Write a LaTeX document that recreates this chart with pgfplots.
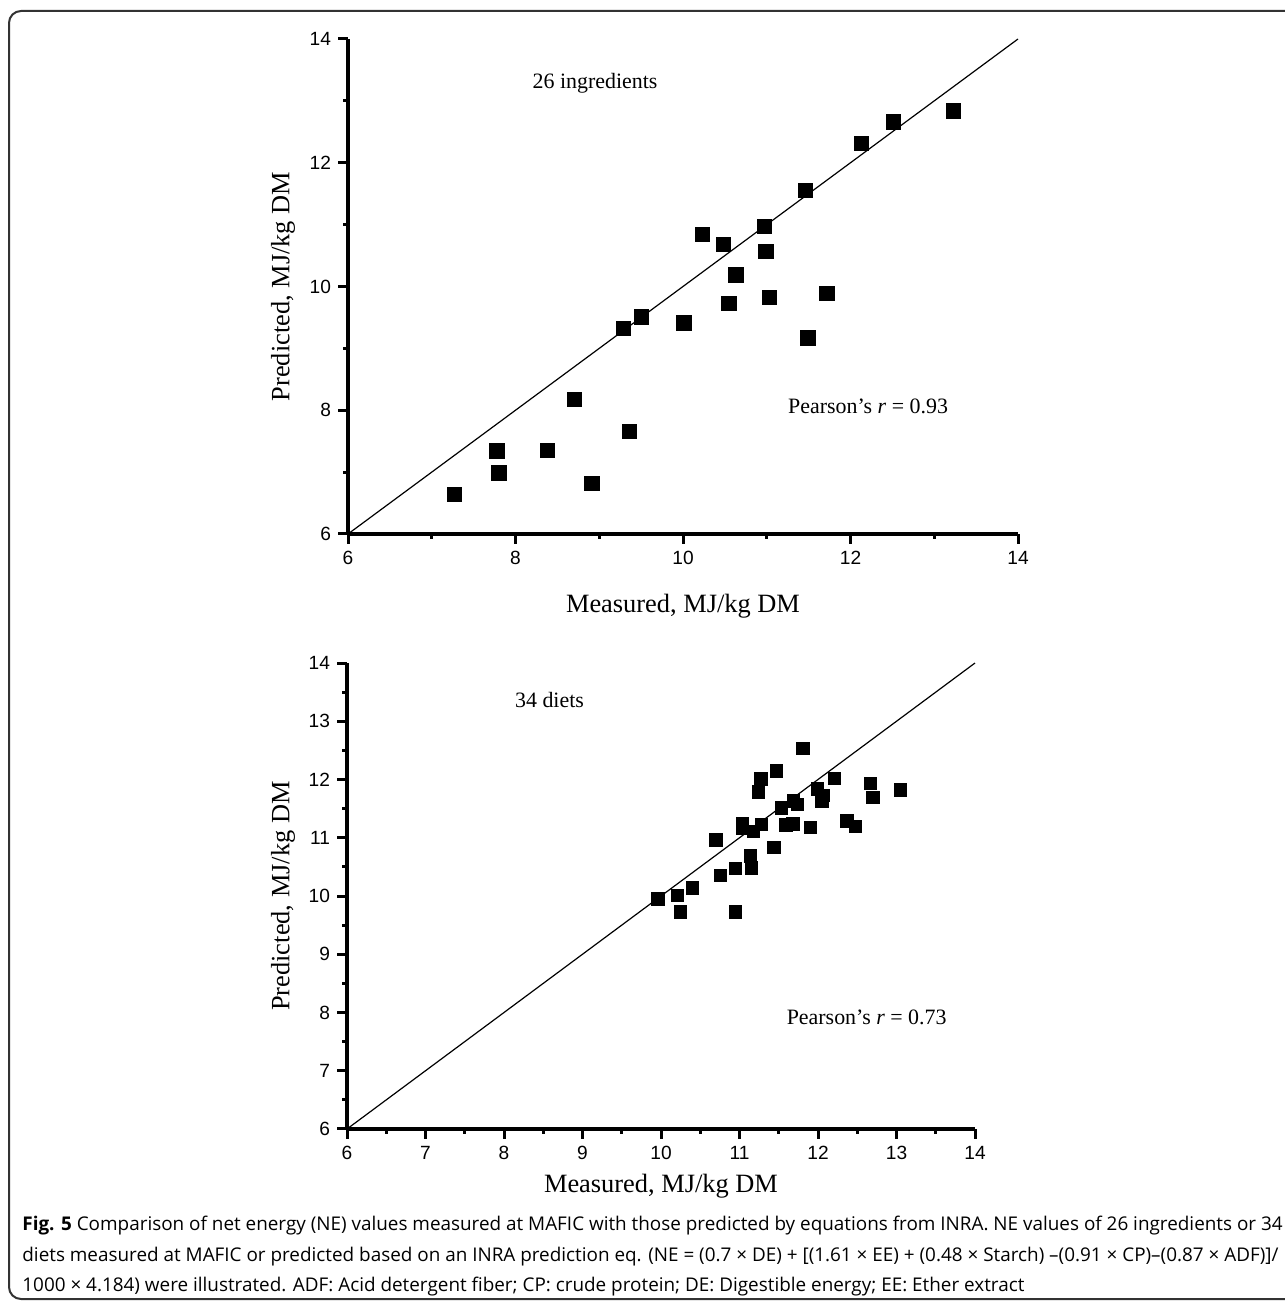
\documentclass[border=0pt]{standalone}
\usepackage{fontspec}
\setmainfont{Liberation Serif}
\newfontfamily\ticksf{Liberation Sans}
\newfontfamily\capsf{Open Sans}
\usepackage{pgfplots}
\pgfplotsset{compat=1.18}

% measured vs predicted NE, top panel (ingredients)
\pgfplotstableread{
x y
7.27 6.64
7.78 7.34
7.80 6.99
8.38 7.35
8.70 8.18
8.91 6.82
9.36 7.66
9.29 9.32
9.50 9.51
10.01 9.41
10.23 10.84
10.48 10.68
10.63 10.19
10.55 9.73
10.97 10.97
10.99 10.57
11.03 9.82
11.46 11.55
11.49 9.17
11.72 9.89
12.13 12.31
12.51 12.66
13.23 12.84
}\ingred

% bottom panel (diets)
\pgfplotstableread{
x y
9.96 9.95
10.21 10.01
10.25 9.73
10.40 10.14
10.70 10.96
10.76 10.35
10.95 10.47
10.95 9.73
11.04 11.25
11.04 11.16
11.14 10.69
11.15 10.48
11.18 11.11
11.24 11.79
11.27 12.01
11.28 11.23
11.44 10.83
11.47 12.15
11.53 11.51
11.59 11.22
11.68 11.24
11.69 11.63
11.74 11.57
11.81 12.53
11.90 11.18
11.99 11.84
12.06 11.73
12.05 11.63
12.21 12.02
12.37 11.29
12.48 11.19
12.67 11.93
12.70 11.69
13.05 11.82
}\diets

\pgfplotsset{nefig/.style={
  scale only axis,
  axis lines=left,
  axis line style={-, line width=1.7bp},
  tick align=outside,
  major tick length=5bp,
  minor tick length=2.5bp,
  every tick/.append style={black, line width=1.5bp},
  xmin=6, xmax=14, ymin=6, ymax=14,
  tick label style={font=\fontsize{9.6}{10}\selectfont\ticksf},
  /pgf/number format/assume math mode=true,
  label style={font=\fontsize{13.25}{14}\selectfont},
  clip=false,
}}

\begin{document}
\begin{tikzpicture}
\path[use as bounding box] (0,0) rectangle (642.5bp,650.5bp);
\clip (0,0) rectangle (642.5bp,650.5bp);

% rounded frame
\draw[line width=1bp, black!80, rounded corners=6bp] (4.5bp,1bp) rectangle (660bp,645bp);

\begin{axis}[nefig,
  at={(174bp,383.5bp)}, anchor=south west,
  width=335bp, height=247.5bp,
  xtick={6,8,...,14}, ytick={6,8,...,14},
  minor x tick num=1, minor y tick num=1,
  xlabel={Measured, MJ/kg DM}, ylabel={Predicted, MJ/kg DM},
  xlabel style={at={(axis description cs:0.5,-0.145)}, anchor=center},
  ylabel style={at={(axis description cs:-0.097,0.5)}, anchor=center},
]
\addplot[black, line width=0.6bp] coordinates {(6,6) (14,14)};
\addplot[only marks, mark=square*, mark size=3.6bp, black] table {\ingred};
\node[font=\fontsize{11}{12}\selectfont] at (axis cs:8.95,13.28) {26 ingredients};
\node[font=\fontsize{11}{12}\selectfont] at (axis cs:12.21,8.07) {Pearson’s \textit{r} = 0.93};
\end{axis}

\begin{axis}[nefig,
  at={(173.5bp,86bp)}, anchor=south west,
  width=314bp, height=233bp,
  xtick={6,...,14}, ytick={6,...,14},
  minor x tick num=1, minor y tick num=1,
  xlabel={Measured, MJ/kg DM}, ylabel={Predicted, MJ/kg DM},
  xlabel style={at={(axis description cs:0.5,-0.122)}, anchor=center},
  ylabel style={at={(axis description cs:-0.102,0.5)}, anchor=center},
]
\addplot[black, line width=0.6bp] coordinates {(6,6) (14,14)};
\addplot[only marks, mark=square*, mark size=3.1bp, black] table {\diets};
\node[font=\fontsize{11}{12}\selectfont] at (axis cs:8.58,13.36) {34 diets};
\node[font=\fontsize{11}{12}\selectfont] at (axis cs:12.62,7.91) {Pearson’s \textit{r} = 0.73};
\end{axis}

% caption
\begin{scope}[every node/.style={anchor=base west, inner sep=0pt, font=\fontsize{9.48}{10}\selectfont\capsf}]
\node at (11bp,35.5bp) {\textbf{Fig. 5} Comparison of net energy (NE) values measured at MAFIC with those predicted by equations from INRA. NE values of 26 ingredients or 34};
\node at (11bp,20bp) {diets measured at MAFIC or predicted based on an INRA prediction eq. (NE = (0.7 × DE) + [(1.61 × EE) + (0.48 × Starch) –(0.91 × CP)–(0.87 × ADF)]/};
\node at (11bp,5bp) {1000 × 4.184) were illustrated. ADF: Acid detergent fiber; CP: crude protein; DE: Digestible energy; EE: Ether extract};
\end{scope}
\end{tikzpicture}
\end{document}
